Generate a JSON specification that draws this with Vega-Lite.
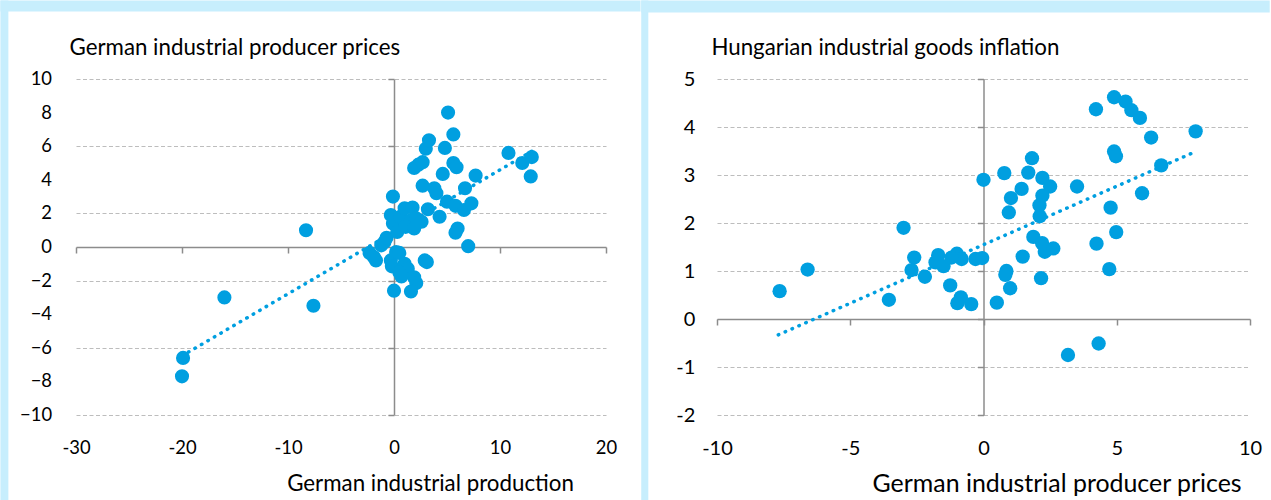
{
  "$schema": "https://vega.github.io/schema/vega-lite/v6.json",
  "background": "white",
  "padding": 0,
  "spacing": 0,
  "config": {
    "view": {"stroke": null},
    "font": "Lato",
    "axis": {
      "labelFont": "Lato", "titleFont": "Lato", "labelColor": "#000000", "titleColor": "#000000",
      "titleFontWeight": "normal", "domainColor": "#8c8c8c", "domainWidth": 1.5,
      "tickColor": "#8c8c8c", "tickWidth": 1.5, "tickSize": 6,
      "labelFlush": false, "labelOverlap": false, "labelBound": false,
      "gridColor": "#bdbdbd", "gridDash": [4, 2.5], "gridWidth": 1.2
    }
  },
  "datasets": {
    "left": [
      {"production": -20.0, "ppi": -7.7}, {"production": -19.9, "ppi": -6.6}, {"production": -16.0, "ppi": -3.0},
      {"production": -8.3, "ppi": 1.0}, {"production": -7.6, "ppi": -3.5},
      {"production": -2.3, "ppi": -0.35}, {"production": -1.9, "ppi": -0.6}, {"production": -1.7, "ppi": -0.8},
      {"production": -1.2, "ppi": 0.1}, {"production": -0.9, "ppi": 0.3}, {"production": -0.7, "ppi": 0.55},
      {"production": -0.3, "ppi": -0.8}, {"production": -0.2, "ppi": -1.15}, {"production": 0.2, "ppi": -0.3},
      {"production": 0.5, "ppi": -0.35}, {"production": 1.0, "ppi": -1.0}, {"production": 1.3, "ppi": -1.3},
      {"production": 0.5, "ppi": -1.5}, {"production": 0.7, "ppi": -1.75}, {"production": 1.9, "ppi": -1.8},
      {"production": 2.1, "ppi": -2.15}, {"production": 0.0, "ppi": -2.6}, {"production": 1.6, "ppi": -2.65},
      {"production": 3.1, "ppi": -0.9}, {"production": 2.9, "ppi": -0.8},
      {"production": -0.1, "ppi": 3.0}, {"production": -0.3, "ppi": 1.9}, {"production": -0.1, "ppi": 1.4},
      {"production": 0.3, "ppi": 0.9}, {"production": 0.6, "ppi": 1.8}, {"production": 1.0, "ppi": 2.3},
      {"production": 1.75, "ppi": 2.35}, {"production": 1.6, "ppi": 1.6}, {"production": 2.1, "ppi": 1.7},
      {"production": 1.1, "ppi": 1.2}, {"production": 1.9, "ppi": 1.1}, {"production": 2.6, "ppi": 1.5},
      {"production": 3.2, "ppi": 2.25}, {"production": 4.3, "ppi": 1.8}, {"production": 5.8, "ppi": 0.85},
      {"production": 6.0, "ppi": 1.1}, {"production": 7.0, "ppi": 0.05},
      {"production": 5.0, "ppi": 2.7}, {"production": 5.8, "ppi": 2.45}, {"production": 6.6, "ppi": 2.2},
      {"production": 7.3, "ppi": 2.6}, {"production": 6.7, "ppi": 3.5}, {"production": 3.8, "ppi": 3.5},
      {"production": 4.0, "ppi": 3.2}, {"production": 2.7, "ppi": 3.65}, {"production": 4.6, "ppi": 4.35},
      {"production": 7.7, "ppi": 4.25},
      {"production": 1.9, "ppi": 4.7}, {"production": 2.3, "ppi": 4.9}, {"production": 2.7, "ppi": 5.05},
      {"production": 5.6, "ppi": 5.0}, {"production": 5.9, "ppi": 4.75}, {"production": 4.8, "ppi": 5.9},
      {"production": 3.0, "ppi": 5.85}, {"production": 3.3, "ppi": 6.35}, {"production": 5.6, "ppi": 6.7},
      {"production": 5.1, "ppi": 8.0},
      {"production": 10.8, "ppi": 5.6}, {"production": 12.1, "ppi": 5.0}, {"production": 13.0, "ppi": 5.35},
      {"production": 12.9, "ppi": 4.2}
    ],
    "left_trend": [
      {"production": -20.0, "ppi": -6.48}, {"production": 13.0, "ppi": 5.7}
    ],
    "left_ticks": [
      {"ppi": -10}, {"ppi": -8}, {"ppi": -6}, {"ppi": -4}, {"ppi": -2}, {"ppi": 0},
      {"ppi": 2}, {"ppi": 4}, {"ppi": 6}, {"ppi": 8}, {"ppi": 10}
    ],
    "right": [
      {"ppi": -7.65, "inflation": 0.58}, {"ppi": -6.6, "inflation": 1.03}, {"ppi": -3.55, "inflation": 0.4},
      {"ppi": -3.0, "inflation": 1.9}, {"ppi": -2.6, "inflation": 1.28}, {"ppi": -2.7, "inflation": 1.02},
      {"ppi": -2.2, "inflation": 0.88}, {"ppi": -1.7, "inflation": 1.33}, {"ppi": -1.8, "inflation": 1.18},
      {"ppi": -1.5, "inflation": 1.1}, {"ppi": -1.0, "inflation": 1.36}, {"ppi": -0.82, "inflation": 1.25},
      {"ppi": -1.2, "inflation": 1.28}, {"ppi": -1.25, "inflation": 0.7}, {"ppi": -0.85, "inflation": 0.45},
      {"ppi": -0.98, "inflation": 0.33}, {"ppi": -0.46, "inflation": 0.31}, {"ppi": -0.3, "inflation": 1.25},
      {"ppi": -0.05, "inflation": 1.27}, {"ppi": 0.0, "inflation": 2.9}, {"ppi": 0.5, "inflation": 0.34},
      {"ppi": 0.78, "inflation": 3.04}, {"ppi": 0.86, "inflation": 1.0}, {"ppi": 0.82, "inflation": 0.92},
      {"ppi": 1.0, "inflation": 0.64}, {"ppi": 0.95, "inflation": 2.22}, {"ppi": 1.03, "inflation": 2.52},
      {"ppi": 1.43, "inflation": 2.71}, {"ppi": 1.47, "inflation": 1.3}, {"ppi": 1.68, "inflation": 3.05},
      {"ppi": 1.82, "inflation": 3.35}, {"ppi": 2.21, "inflation": 2.94}, {"ppi": 2.5, "inflation": 2.76},
      {"ppi": 2.21, "inflation": 2.57}, {"ppi": 2.1, "inflation": 2.37}, {"ppi": 2.11, "inflation": 2.14},
      {"ppi": 1.87, "inflation": 1.71}, {"ppi": 2.2, "inflation": 1.58}, {"ppi": 2.3, "inflation": 1.4},
      {"ppi": 2.62, "inflation": 1.47}, {"ppi": 2.16, "inflation": 0.85}, {"ppi": 3.51, "inflation": 2.76},
      {"ppi": 3.17, "inflation": -0.75}, {"ppi": 4.32, "inflation": -0.51}, {"ppi": 4.24, "inflation": 1.57},
      {"ppi": 4.72, "inflation": 1.04}, {"ppi": 4.77, "inflation": 2.32}, {"ppi": 4.98, "inflation": 1.81},
      {"ppi": 4.9, "inflation": 3.49}, {"ppi": 4.97, "inflation": 3.39}, {"ppi": 4.22, "inflation": 4.37},
      {"ppi": 4.9, "inflation": 4.62}, {"ppi": 5.33, "inflation": 4.53}, {"ppi": 5.55, "inflation": 4.35},
      {"ppi": 5.87, "inflation": 4.19}, {"ppi": 6.29, "inflation": 3.78}, {"ppi": 6.67, "inflation": 3.2},
      {"ppi": 5.95, "inflation": 2.62}, {"ppi": 7.96, "inflation": 3.91}
    ],
    "right_trend": [
      {"ppi": -7.7, "inflation": -0.33}, {"ppi": 7.97, "inflation": 3.49}
    ]
  },
  "hconcat": [
    {
      "width": 530,
      "height": 336,
      "layer": [
        {
          "data": {"name": "left_trend"},
          "mark": {"type": "line", "color": "#009fe0", "strokeWidth": 3.5, "strokeCap": "round", "strokeDash": [0.5, 7]},
          "encoding": {
            "x": {
              "field": "production", "type": "quantitative",
              "scale": {"domain": [-30, 20], "nice": false, "zero": false},
              "axis": {
                "values": [-30, -20, -10, 0, 10, 20], "offset": -168, "grid": false,
                "labelOverlap": false, "labelExpr": "'' + datum.value",
                "labelPadding": 185, "labelFontSize": 18.4,
                "title": "German industrial production", "titleFontSize": 22.3,
                "titleX": 354, "titleY": 243.5, "titleAlign": "center", "titleBaseline": "alphabetic", "titleAnchor": null
              }
            },
            "y": {
              "field": "ppi", "type": "quantitative",
              "scale": {"domain": [-10, 10], "nice": false, "zero": false},
              "axis": {
                "values": [-10, -8, -6, -4, -2, 0, 2, 4, 6, 8, 10], "offset": -318, "grid": true,
                "labels": false,
                "title": "German industrial producer prices", "titleFontSize": 22.3, "titleAngle": 0,
                "titleX": -325, "titleY": -24.5, "titleAlign": "left", "titleBaseline": "alphabetic", "titleAnchor": null
              }
            }
          }
        },
        {
          "data": {"name": "left"},
          "mark": {"type": "circle", "color": "#009fe0", "opacity": 1, "size": 200},
          "encoding": {
            "x": {"field": "production", "type": "quantitative", "scale": {"domain": [-30, 20], "nice": false, "zero": false}},
            "y": {"field": "ppi", "type": "quantitative", "scale": {"domain": [-10, 10], "nice": false, "zero": false}}
          }
        },
        {
          "data": {"name": "left_ticks"},
          "mark": {"type": "text", "font": "Lato", "fontSize": 18.4, "color": "#000000", "align": "right", "baseline": "middle", "clip": false},
          "encoding": {
            "x": {"datum": -32.26, "type": "quantitative", "scale": {"domain": [-30, 20], "nice": false, "zero": false}},
            "y": {"field": "ppi", "type": "quantitative", "scale": {"domain": [-10, 10], "nice": false, "zero": false}},
            "text": {"field": "ppi", "type": "quantitative", "format": "d"}
          }
        },
        {
          "data": {"values": [{}]},
          "mark": {"type": "rect", "color": "#c7eefd", "clip": false},
          "encoding": {
            "x": {"datum": -37.13, "type": "quantitative", "scale": {"domain": [-30, 20], "nice": false, "zero": false}},
            "x2": {"datum": 23.26},
            "y": {"datum": 14.67, "type": "quantitative", "scale": {"domain": [-10, 10], "nice": false, "zero": false}},
            "y2": {"datum": 14.02}
          }
        },
        {
          "data": {"values": [{}]},
          "mark": {"type": "rect", "color": "#c7eefd", "clip": false},
          "encoding": {
            "x": {"datum": -37.13, "type": "quantitative", "scale": {"domain": [-30, 20], "nice": false, "zero": false}},
            "x2": {"datum": -36.38},
            "y": {"datum": 14.67, "type": "quantitative", "scale": {"domain": [-10, 10], "nice": false, "zero": false}},
            "y2": {"datum": -15.06}
          }
        }
      ]
    },
    {
      "width": 533,
      "height": 336,
      "layer": [
        {
          "data": {"name": "right_trend"},
          "mark": {"type": "line", "color": "#009fe0", "strokeWidth": 3.5, "strokeCap": "round", "strokeDash": [0.5, 7]},
          "encoding": {
            "x": {
              "field": "ppi", "type": "quantitative",
              "scale": {"domain": [-10, 10], "nice": false, "zero": false},
              "axis": {
                "values": [-10, -5, 0, 5, 10], "offset": -96, "grid": false,
                "labelOverlap": false, "labelExpr": "'' + datum.value",
                "labelPadding": 113, "labelFontSize": 20,
                "title": "German industrial producer prices", "titleFontSize": 24.9,
                "titleX": 339.6, "titleY": 172.7, "titleAlign": "center", "titleBaseline": "alphabetic", "titleAnchor": null
              }
            },
            "y": {
              "field": "inflation", "type": "quantitative",
              "scale": {"domain": [-2, 5], "nice": false, "zero": false},
              "axis": {
                "values": [-2, -1, 0, 1, 2, 3, 4, 5], "offset": -266.5, "grid": true,
                "labelOverlap": false, "labelExpr": "'' + datum.value",
                "labelPadding": 282.7, "labelFontSize": 20,
                "title": "Hungarian industrial goods inflation", "titleFontSize": 22.3, "titleAngle": 0,
                "titleX": -272.6, "titleY": -24.3, "titleAlign": "left", "titleBaseline": "alphabetic", "titleAnchor": null
              }
            }
          }
        },
        {
          "data": {"name": "right"},
          "mark": {"type": "circle", "color": "#009fe0", "opacity": 1, "size": 205},
          "encoding": {
            "x": {"field": "ppi", "type": "quantitative", "scale": {"domain": [-10, 10], "nice": false, "zero": false}},
            "y": {"field": "inflation", "type": "quantitative", "scale": {"domain": [-2, 5], "nice": false, "zero": false}}
          }
        },
        {
          "data": {"values": [{}]},
          "mark": {"type": "rect", "color": "#c7eefd", "clip": false},
          "encoding": {
            "x": {"datum": -12.843, "type": "quantitative", "scale": {"domain": [-10, 10], "nice": false, "zero": false}},
            "x2": {"datum": 10.74},
            "y": {"datum": 6.635, "type": "quantitative", "scale": {"domain": [-2, 5], "nice": false, "zero": false}},
            "y2": {"datum": 6.385}
          }
        },
        {
          "data": {"values": [{}]},
          "mark": {"type": "rect", "color": "#c7eefd", "clip": false},
          "encoding": {
            "x": {"datum": -12.843, "type": "quantitative", "scale": {"domain": [-10, 10], "nice": false, "zero": false}},
            "x2": {"datum": -12.577},
            "y": {"datum": 6.635, "type": "quantitative", "scale": {"domain": [-2, 5], "nice": false, "zero": false}},
            "y2": {"datum": -3.77}
          }
        }
      ]
    }
  ]
}
